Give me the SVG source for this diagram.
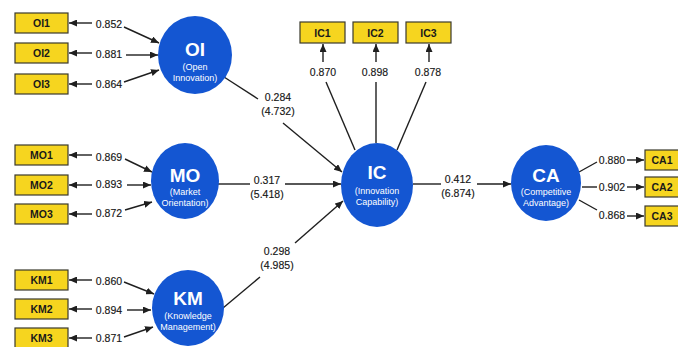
<svg xmlns="http://www.w3.org/2000/svg" width="678" height="347" viewBox="0 0 678 347">
  <style>
    .ind rect { fill: #f6d51f; stroke: #3b3a2e; stroke-width: 1.2; }
    .ind text { font-family: "Liberation Sans", Arial, sans-serif; font-weight: bold; font-size: 10.5px; fill: #1a1a1a; text-anchor: middle; }
    .lv ellipse { fill: #1456d2; }
    .lv text { font-family: "Liberation Sans", Arial, sans-serif; fill: #ffffff; text-anchor: middle; }
    .lv .t { font-size: 19px; font-weight: bold; }
    .lv .s { font-size: 9px; }
    .edges line { stroke: #1f1f1f; stroke-width: 1.4; fill: none; }
    .edges line.a { marker-end: url(#ah); }
    .num { font-family: "Liberation Sans", Arial, sans-serif; font-size: 10.5px; fill: #161616; stroke: #161616; stroke-width: 0.15; text-anchor: middle; }
  </style>
  <defs>
    <marker id="ah" markerWidth="8" markerHeight="7" refX="8" refY="3.5" orient="auto" markerUnits="userSpaceOnUse">
      <path d="M0,0 L8,3.5 L0,7 z" fill="#1f1f1f"/>
    </marker>
  </defs>
  <rect width="678" height="347" fill="#ffffff"/>

  <!-- connectors -->
  <g class="edges">
    <!-- OI indicators -->
    <line class="a" x1="92" y1="23" x2="69" y2="23"/>
    <line class="a" x1="92" y1="53" x2="69" y2="53"/>
    <line class="a" x1="92" y1="84" x2="69" y2="84"/>
    <line class="a" x1="124" y1="27" x2="159" y2="43"/>
    <line class="a" x1="126" y1="55" x2="158" y2="55"/>
    <line class="a" x1="124" y1="82" x2="159" y2="70"/>
    <!-- MO indicators -->
    <line class="a" x1="92" y1="155" x2="69" y2="155"/>
    <line class="a" x1="92" y1="185" x2="69" y2="185"/>
    <line class="a" x1="92" y1="214" x2="69" y2="214"/>
    <line class="a" x1="125" y1="159" x2="152" y2="172"/>
    <line class="a" x1="127" y1="185" x2="151" y2="185"/>
    <line class="a" x1="125" y1="210" x2="152" y2="202"/>
    <!-- KM indicators -->
    <line class="a" x1="92" y1="280" x2="69" y2="280"/>
    <line class="a" x1="92" y1="309" x2="69" y2="309"/>
    <line class="a" x1="92" y1="338" x2="69" y2="338"/>
    <line class="a" x1="124" y1="282" x2="154" y2="294"/>
    <line class="a" x1="127" y1="310" x2="151" y2="310"/>
    <line class="a" x1="124" y1="337" x2="153" y2="327"/>
    <!-- IC indicators -->
    <line class="a" x1="323" y1="62" x2="323" y2="44"/>
    <line class="a" x1="376" y1="62" x2="376" y2="44"/>
    <line class="a" x1="429" y1="62" x2="429" y2="44"/>
    <line x1="326" y1="82" x2="355" y2="150"/>
    <line x1="376" y1="82" x2="376" y2="143"/>
    <line x1="426" y1="82" x2="397" y2="150"/>
    <!-- CA indicators -->
    <line x1="579" y1="172" x2="597" y2="162"/>
    <line x1="582" y1="187" x2="597" y2="187"/>
    <line x1="579" y1="200" x2="597" y2="210"/>
    <line class="a" x1="627" y1="160" x2="644" y2="160"/>
    <line class="a" x1="627" y1="187" x2="644" y2="187"/>
    <line class="a" x1="627" y1="216" x2="644" y2="216"/>
    <!-- structural paths -->
    <line x1="224" y1="77" x2="258" y2="99"/>
    <line class="a" x1="283" y1="123" x2="342" y2="172"/>
    <line x1="218" y1="184" x2="250" y2="184"/>
    <line class="a" x1="285" y1="184" x2="341" y2="184"/>
    <line x1="223" y1="308" x2="260" y2="277"/>
    <line class="a" x1="295" y1="243" x2="343" y2="201"/>
    <line x1="413" y1="184" x2="441" y2="184"/>
    <line class="a" x1="477" y1="184" x2="511" y2="184"/>
  </g>

  <!-- loadings and path coefficients -->
  <g id="labels">
    <text class="num" x="109" y="28">0.852</text>
    <text class="num" x="109" y="58">0.881</text>
    <text class="num" x="109" y="88">0.864</text>
    <text class="num" x="109" y="161">0.869</text>
    <text class="num" x="109" y="188">0.893</text>
    <text class="num" x="109" y="217">0.872</text>
    <text class="num" x="109" y="285">0.860</text>
    <text class="num" x="109" y="314">0.894</text>
    <text class="num" x="109" y="342">0.871</text>
    <text class="num" x="323" y="76">0.870</text>
    <text class="num" x="375" y="76">0.898</text>
    <text class="num" x="428" y="76">0.878</text>
    <text class="num" x="612" y="164">0.880</text>
    <text class="num" x="612" y="191">0.902</text>
    <text class="num" x="612" y="219">0.868</text>
    <text class="num" x="278" y="101">0.284</text>
    <text class="num" x="278" y="115">(4.732)</text>
    <text class="num" x="267" y="184">0.317</text>
    <text class="num" x="267" y="198">(5.418)</text>
    <text class="num" x="277" y="255">0.298</text>
    <text class="num" x="277" y="269">(4.985)</text>
    <text class="num" x="458" y="183">0.412</text>
    <text class="num" x="458" y="197">(6.874)</text>
  </g>

  <!-- indicator boxes -->
  <g id="OI1" class="ind"><rect x="15" y="13" width="53" height="20"/><text x="41.5" y="27">OI1</text></g>
  <g id="OI2" class="ind"><rect x="15" y="43" width="53" height="20"/><text x="41.5" y="57">OI2</text></g>
  <g id="OI3" class="ind"><rect x="15" y="74" width="53" height="20"/><text x="41.5" y="88">OI3</text></g>
  <g id="MO1" class="ind"><rect x="15" y="145" width="53" height="20"/><text x="41.5" y="159">MO1</text></g>
  <g id="MO2" class="ind"><rect x="15" y="175" width="53" height="20"/><text x="41.5" y="189">MO2</text></g>
  <g id="MO3" class="ind"><rect x="15" y="204" width="53" height="20"/><text x="41.5" y="218">MO3</text></g>
  <g id="KM1" class="ind"><rect x="15" y="270" width="53" height="20"/><text x="41.5" y="284">KM1</text></g>
  <g id="KM2" class="ind"><rect x="15" y="299" width="53" height="20"/><text x="41.5" y="313">KM2</text></g>
  <g id="KM3" class="ind"><rect x="15" y="328" width="53" height="20"/><text x="41.5" y="342">KM3</text></g>
  <g id="IC1" class="ind"><rect x="300" y="22" width="45" height="21"/><text x="322.5" y="36.5">IC1</text></g>
  <g id="IC2" class="ind"><rect x="353" y="22" width="45" height="21"/><text x="375.5" y="36.5">IC2</text></g>
  <g id="IC3" class="ind"><rect x="406" y="22" width="45" height="21"/><text x="428.5" y="36.5">IC3</text></g>
  <g id="CA1" class="ind"><rect x="645" y="150" width="53" height="20"/><text x="662" y="164">CA1</text></g>
  <g id="CA2" class="ind"><rect x="645" y="177" width="53" height="20"/><text x="662" y="191">CA2</text></g>
  <g id="CA3" class="ind"><rect x="645" y="206" width="53" height="20"/><text x="662" y="220">CA3</text></g>

  <!-- latent variables -->
  <g id="OI" class="lv">
    <ellipse cx="195" cy="55" rx="37" ry="39"/>
    <text class="t" x="195" y="55.5">OI</text>
    <text class="s" x="195" y="70">(Open</text>
    <text class="s" x="195" y="81">Innovation)</text>
  </g>
  <g id="MO" class="lv">
    <ellipse cx="185" cy="181" rx="34" ry="38"/>
    <text class="t" x="185" y="182">MO</text>
    <text class="s" x="185" y="195">(Market</text>
    <text class="s" x="185" y="206">Orientation)</text>
  </g>
  <g id="KM" class="lv">
    <ellipse cx="188" cy="308" rx="36" ry="38"/>
    <text class="t" x="188" y="305">KM</text>
    <text class="s" x="188" y="319">(Knowledge</text>
    <text class="s" x="188" y="330">Management)</text>
  </g>
  <g id="IC" class="lv">
    <ellipse cx="377" cy="185" rx="36" ry="42"/>
    <text class="t" x="377" y="179">IC</text>
    <text class="s" x="377" y="194">(Innovation</text>
    <text class="s" x="377" y="205">Capability)</text>
  </g>
  <g id="CA" class="lv">
    <ellipse cx="546" cy="183" rx="35" ry="38"/>
    <text class="t" x="546" y="181.5">CA</text>
    <text class="s" x="546" y="195">(Competitive</text>
    <text class="s" x="546" y="206">Advantage)</text>
  </g>
</svg>
